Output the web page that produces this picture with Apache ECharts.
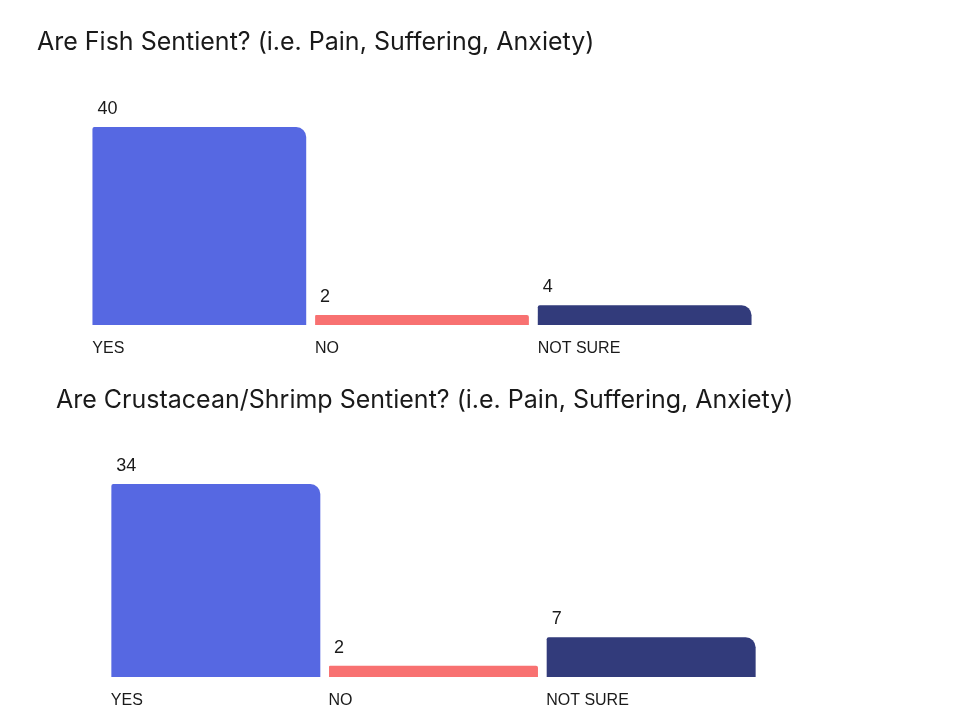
<!DOCTYPE html>
<html>
<head>
<meta charset="utf-8">
<script src="https://cdn.jsdelivr.net/npm/echarts@6/dist/echarts.min.js"></script>
<style>html,body{margin:0;padding:0;background:#fff}#c{width:960px;height:720px}</style>
</head>
<body>
<div id="c"></div>
<script>
var categories = ['YES', 'NO', 'NOT SURE'];
var fishValues = [40, 2, 4];
var shrimpValues = [34, 2, 7];
var titles = ['Are Fish Sentient? (i.e. Pain, Suffering, Anxiety)', 'Are Crustacean/Shrimp Sentient? (i.e. Pain, Suffering, Anxiety)'];
var colors = ['#5668E2', '#F87171', '#323B7B'];

var chart = echarts.init(document.getElementById('c'));

function barData(vals) {
  return vals.map(function (v, i) {
    return {
      value: v,
      itemStyle: {
        color: colors[i],
        borderRadius: i === 1 ? [1, 2, 0, 0] : [2, 10, 0, 0]
      }
    };
  });
}

function xAxis(gi, w) {
  return {
    type: 'category', gridIndex: gi, data: categories,
    axisLine: { show: false }, axisTick: { show: false },
    axisLabel: {
      interval: 0, margin: 16, align: 'center',
      formatter: function (v) { return '{a|' + v + '}'; },
      rich: { a: { width: w, align: 'left', fontSize: 16, color: '#1a1a1a', fontFamily: 'Liberation Sans' } }
    }
  };
}

function yAxis(gi, max) {
  return { type: 'value', gridIndex: gi, min: 0, max: max, show: false, splitLine: { show: false } };
}

function series(gi, vals) {
  return {
    type: 'bar', xAxisIndex: gi, yAxisIndex: gi, data: barData(vals),
    barCategoryGap: '4%',
    label: {
      show: true, position: [5, -27], fontSize: 18, color: '#1a1a1a', fontFamily: 'Liberation Sans'
    }
  };
}

chart.setOption({
  animation: false,
  title: [
    { text: titles[0], left: 32, top: 25, textStyle: { fontFamily: 'Inter', fontWeight: 'normal', fontSize: 25, color: '#1a1a1a' } },
    { text: titles[1], left: 51, top: 383, textStyle: { fontFamily: 'Inter', fontWeight: 'normal', fontSize: 25, color: '#1a1a1a' } }
  ],
  grid: [
    { left: 88, width: 668, top: 127, height: 198 },
    { left: 107, width: 653, top: 484, height: 193 }
  ],
  xAxis: [xAxis(0, 214), xAxis(1, 210)],
  yAxis: [yAxis(0, 40), yAxis(1, 34)],
  series: [series(0, fishValues), series(1, shrimpValues)]
});
</script>
</body>
</html>
